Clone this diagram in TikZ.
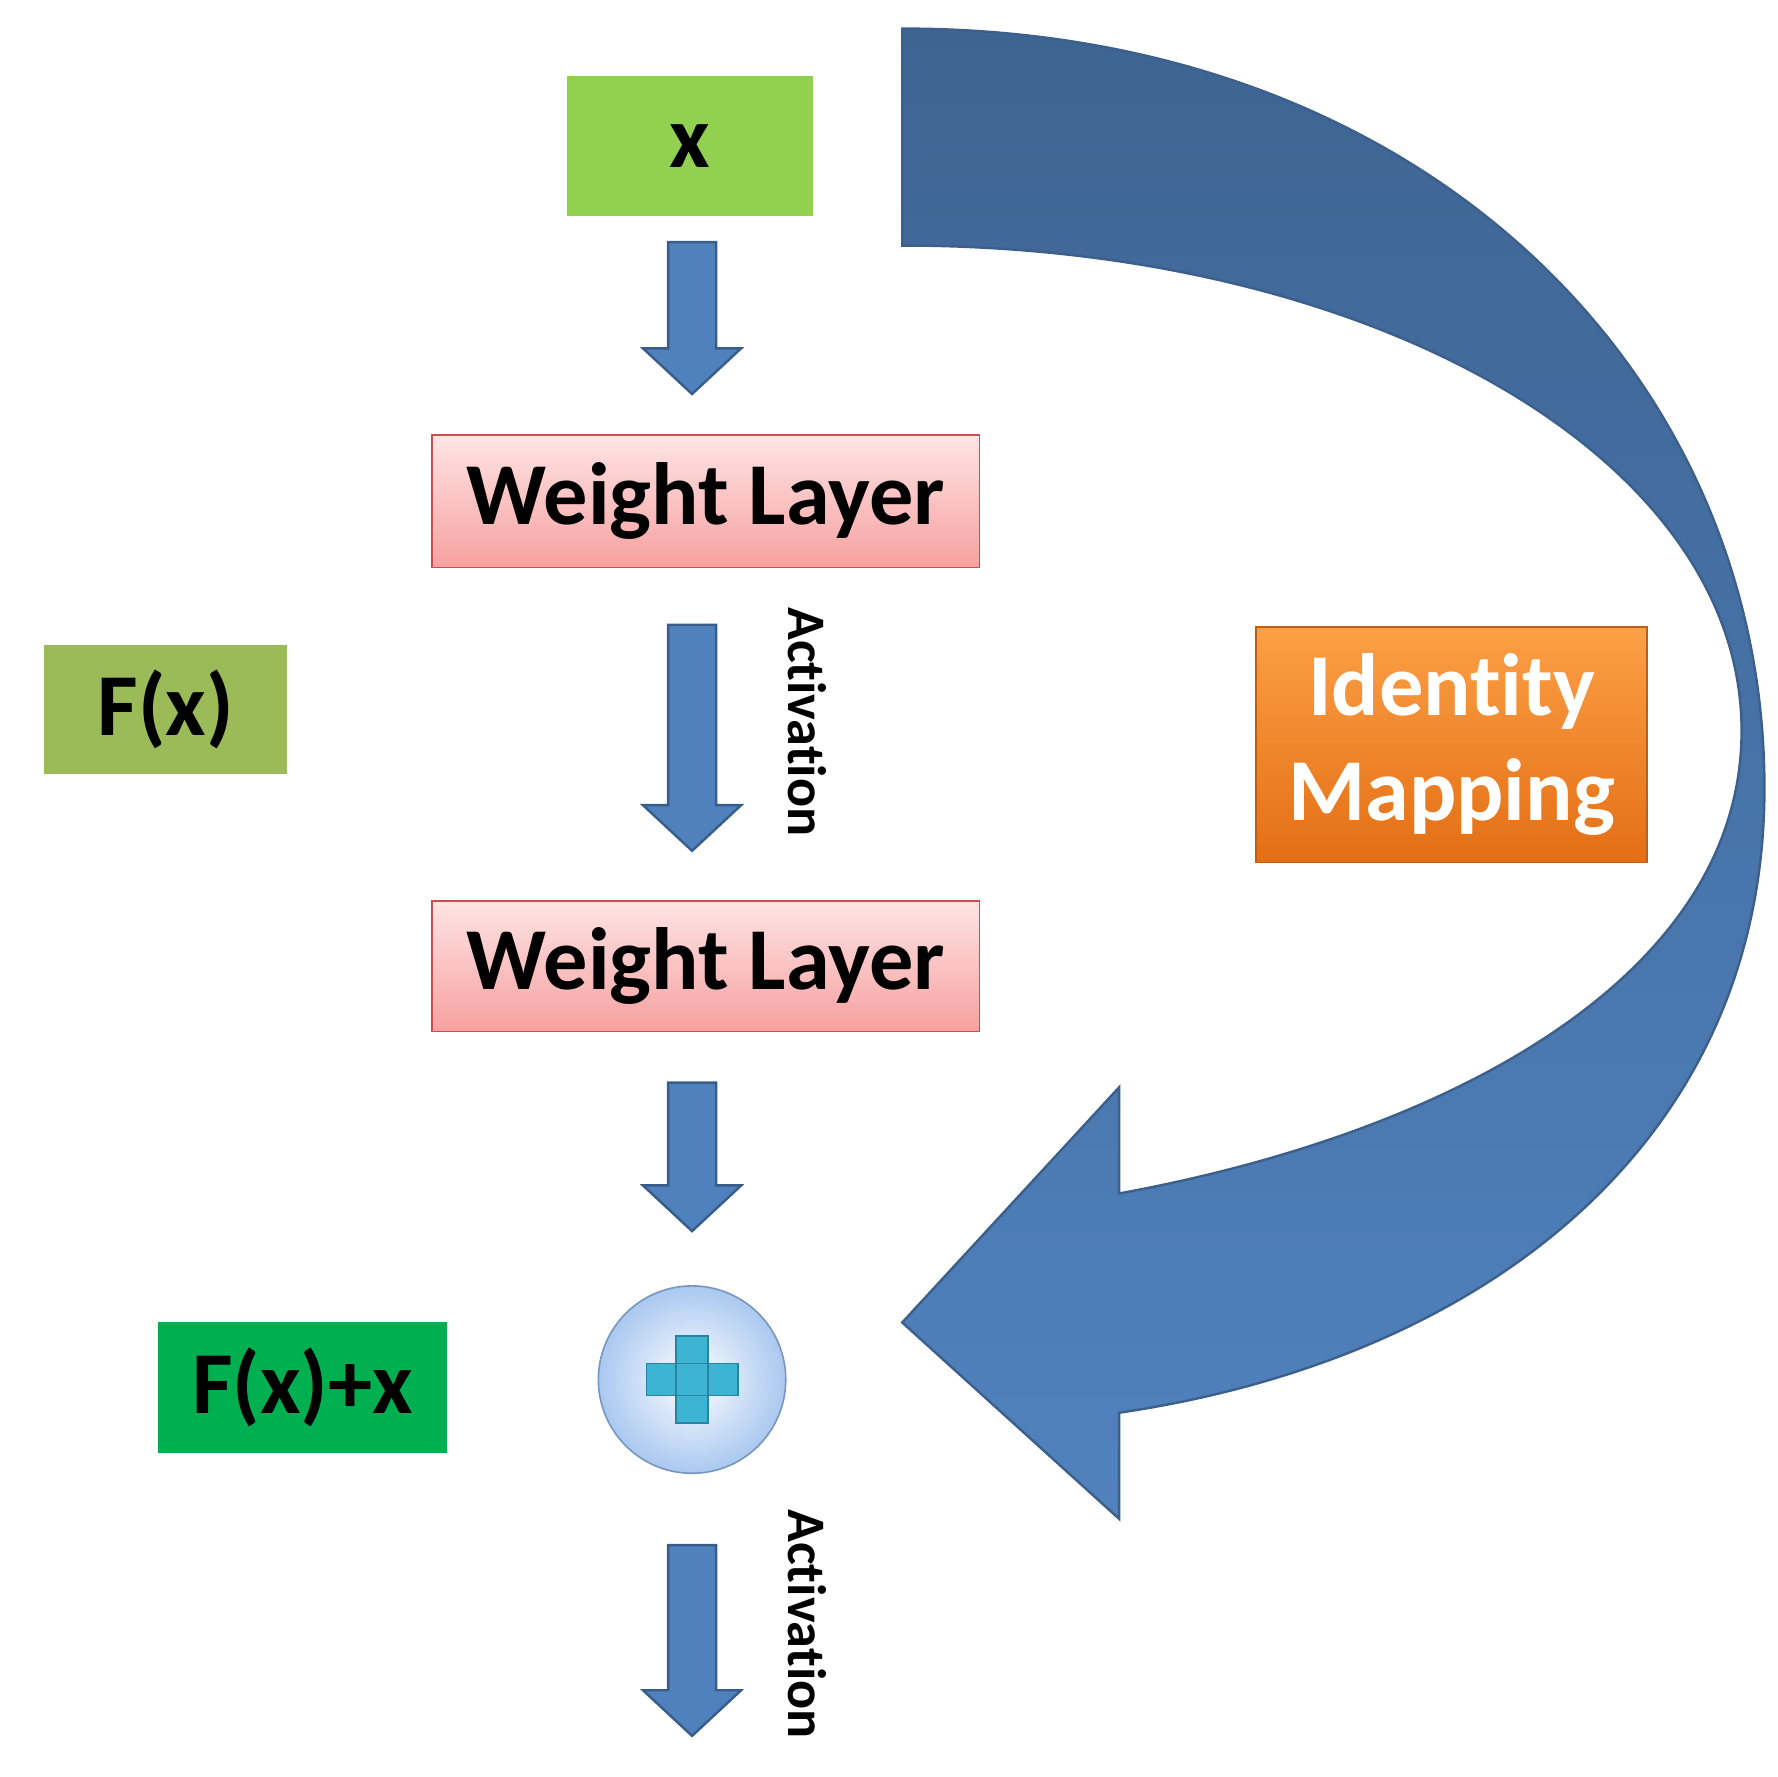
\documentclass[tikz,border=0pt]{standalone}
\usepackage{fontspec}
\setmainfont{Carlito}[Ligatures=NoCommon]
\begin{document}
\begin{tikzpicture}[x=0.01cm,y=-0.01cm,
  lbl/.style={font=\bfseries\fontsize{22}{24}\selectfont, inner sep=0pt},
  act/.style={font=\bfseries\fontsize{13.5}{15}\selectfont, rotate=-90, inner sep=0pt},
  wl/.style={lbl, draw={rgb,255:red,200;green,80;blue,80}, top color={rgb,255:red,255;green,228;blue,228}, bottom color={rgb,255:red,246;green,160;blue,160}, minimum width=4.79cm},
  blk/.style={fill={rgb,255:red,79;green,129;blue,189}, draw={rgb,255:red,56;green,93;blue,138}, line width=0.6pt}]
\useasboundingbox (0,0) rectangle (1556,1556);
\newcommand\blkarrow[3]{\path[blk] (#1-21,#2) -- (#1+21,#2) -- (#1+21,#3-40) -- (#1+43,#3-40) -- (#1,#3) -- (#1-43,#3-40) -- (#1-21,#3-40) -- cycle;}
% big curved arrow
\path[top color={rgb,255:red,62;green,100;blue,146}, bottom color={rgb,255:red,80;green,130;blue,190}, draw={rgb,255:red,60;green,95;blue,140}, line width=0.6pt]
 (790,25) .. controls (1250,25) and (1545,330) .. (1545,690)
 .. controls (1545,1000) and (1300,1190) .. (980,1237)
 -- (980,1330) -- (790,1158) -- (980,952) -- (980,1045)
 .. controls (1280,990) and (1525,850) .. (1525,640)
 .. controls (1525,400) and (1200,215) .. (790,215) -- cycle;
% boxes
\node[lbl, fill={rgb,255:red,146;green,208;blue,80}, minimum width=2.15cm, minimum height=1.22cm] (x) at (604,128) {x};
\node[wl, minimum height=1.16cm] (w1) at (618,439) {Weight Layer};
\node[wl, minimum height=1.14cm] (w2) at (618,846) {Weight Layer};
\node[lbl, fill={rgb,255:red,155;green,187;blue,89}, minimum width=2.13cm, minimum height=1.13cm] (fx) at (145,621) {F(x)};
\node[lbl, fill={rgb,255:red,0;green,176;blue,80}, minimum width=2.53cm, minimum height=1.15cm] (fxx) at (265,1215) {F(x)+x};
\node[font=\bfseries\fontsize{22}{26}\selectfont, text=white, align=center, draw={rgb,255:red,190;green,95;blue,20}, top color={rgb,255:red,252;green,160;blue,70}, bottom color={rgb,255:red,228;green,110;blue,20}, minimum width=3.42cm, minimum height=2.06cm] (id) at (1271,652) {Identity\\Mapping};
% plus circle
\node[circle, draw={rgb,255:red,120;green,150;blue,190}, inner color=white, outer color={rgb,255:red,170;green,200;blue,240}, minimum size=1.64cm] (plus) at (606,1208) {};
\path[fill={rgb,255:red,60;green,180;blue,210}, draw={rgb,255:red,40;green,130;blue,160}] (592,1170) rectangle (620,1246) (566,1194) rectangle (646,1222);
% arrows
\blkarrow{606}{212}{345}
\blkarrow{606}{547}{745}
\blkarrow{606}{948}{1078}
\blkarrow{606}{1353}{1520}
\node[act] (a1) at (707,632) {Activation};
\node[act] (a2) at (707,1422) {Activation};
\end{tikzpicture}
\end{document}
